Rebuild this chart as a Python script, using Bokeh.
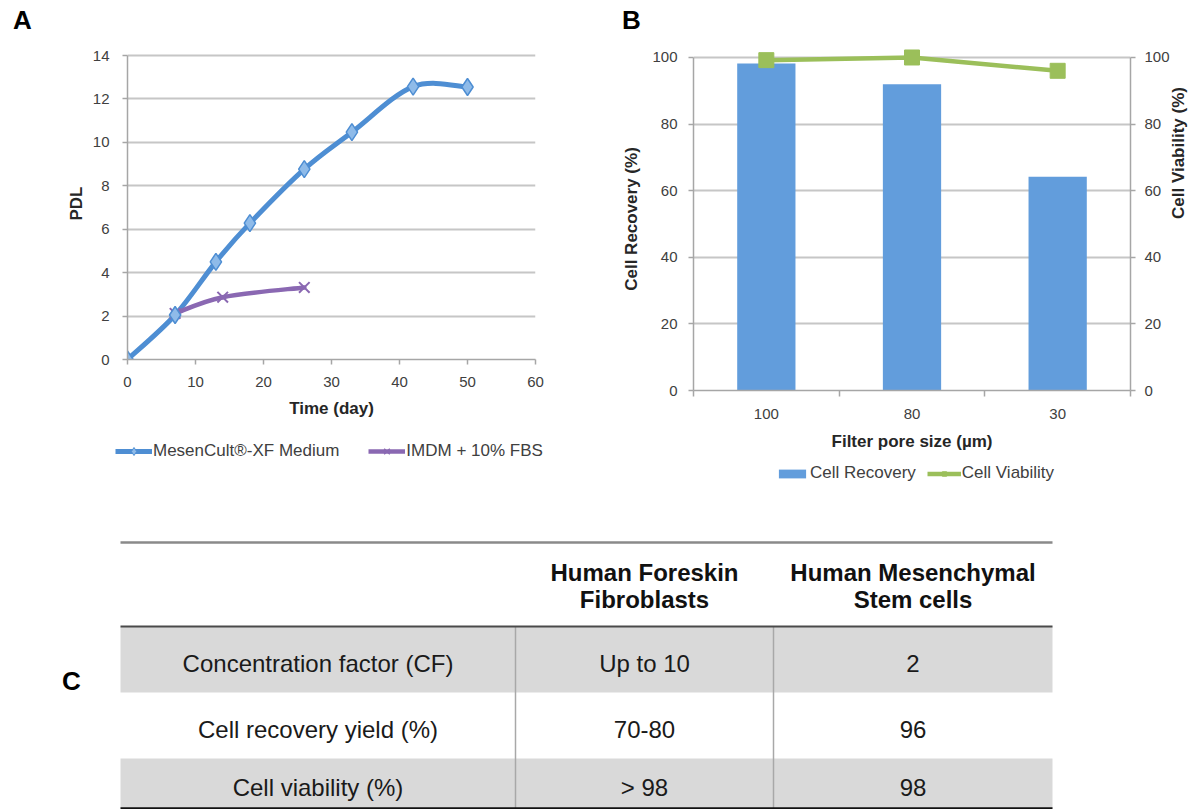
import math
from bokeh.plotting import figure
from bokeh.models import (Range1d, LinearAxis, FixedTicker, SingleIntervalTicker,
                          Legend, LegendItem, ColumnDataSource)
from bokeh.layouts import column, row
from bokeh.embed import file_html
from bokeh.resources import INLINE
from bokeh.core.properties import value

# ---------------- data ----------------
# Panel A: population doubling level over time
mesencult_day = [0, 7, 13, 18, 26, 33, 42, 50]
mesencult_pdl = [0.0, 2.05, 4.5, 6.28, 8.77, 10.47, 12.57, 12.55]
imdm_day = [7, 14, 26]
imdm_pdl = [2.12, 2.87, 3.32]
series_a_names = ["MesenCult®-XF Medium", "IMDM + 10% FBS"]

# Panel B: filter pore size
pore_sizes = ["100", "80", "30"]
cell_recovery = [98.2, 92.0, 64.2]
cell_viability = [99.2, 100.0, 96.0]
series_b_names = ["Cell Recovery", "Cell Viability"]

# Panel C: table
table_head_1 = ["Human Foreskin", "Human Mesenchymal"]
table_head_2 = ["Fibroblasts", "Stem cells"]
row_labels = ["Concentration factor (CF)", "Cell recovery yield (%)", "Cell viability (%)"]
fibroblast_values = ["Up to 10", "70-80", "> 98"]
msc_values = ["2", "96", "98"]

panel_letters = ["A", "B", "C"]

FONT = "Liberation Sans"
TICK_COLOR = "#404040"
AXIS_COLOR = "#a6a6a6"
GRID_COLOR = "#c6c6c6"
BLUE = "#4e8ed3"
BLUE_FILL = "#8fbbe9"
PURPLE = "#8a68b2"
BAR = "#629ddc"
GREEN = "#9bbf5a"
NAN = float("nan")


def smooth_segments(xs, ys):
    """Catmull-Rom style bezier control points (Excel 'smoothed line')."""
    n = len(xs)
    d = dict(x0=[], y0=[], x1=[], y1=[], cx0=[], cy0=[], cx1=[], cy1=[])
    for i in range(n - 1):
        im, i2 = max(i - 1, 0), min(i + 2, n - 1)
        d["x0"].append(xs[i]); d["y0"].append(ys[i])
        d["x1"].append(xs[i + 1]); d["y1"].append(ys[i + 1])
        d["cx0"].append(xs[i] + (xs[i + 1] - xs[im]) / 6)
        d["cy0"].append(ys[i] + (ys[i + 1] - ys[im]) / 6)
        d["cx1"].append(xs[i + 1] - (xs[i2] - xs[i]) / 6)
        d["cy1"].append(ys[i + 1] - (ys[i2] - ys[i]) / 6)
    return ColumnDataSource(d)


def style_axis(ax):
    ax.axis_line_color = AXIS_COLOR
    ax.axis_line_width = 1.5
    ax.major_tick_line_color = AXIS_COLOR
    ax.major_tick_line_width = 1.5
    ax.major_tick_in = 0
    ax.major_tick_out = 5
    ax.minor_tick_line_color = None
    ax.major_label_text_font = FONT
    ax.major_label_text_font_size = "15px"
    ax.major_label_text_color = TICK_COLOR
    ax.axis_label_text_font = FONT
    ax.axis_label_text_font_size = "17px"
    ax.axis_label_text_font_style = "bold"
    ax.axis_label_text_color = "#262626"


def bare(width, height, y_top, y_bottom, fixed_frame=False):
    """Axis-less canvas whose data units are page pixels (layout only)."""
    size = dict(frame_width=width, frame_height=height) if fixed_frame else dict(width=width, height=height)
    p = figure(x_range=Range1d(0, width), y_range=Range1d(y_bottom, y_top),
               x_axis_type=None, y_axis_type=None, output_backend="svg", toolbar_location=None,
               min_border_left=0, min_border_right=0, min_border_top=0, min_border_bottom=0, **size)
    p.outline_line_color = None
    return p


leg_style = dict(orientation="horizontal", label_standoff=1, padding=0, margin=0,
                 background_fill_alpha=0, border_line_alpha=0,
                 label_text_font=FONT, label_text_font_size="17px", label_text_color=TICK_COLOR)

# ---------------- header strip with panel letters A, B ----------------
strip = bare(1200, 36, 0, 36)
strip.text(x=[22, 631], y=[19, 19], text=panel_letters[:2], text_font=value(FONT),
           text_font_size="26px", text_font_style="bold", text_align="center",
           text_baseline="middle", text_color="black")

# ---------------- Panel A ----------------
pA = figure(width=608, height=389, x_range=Range1d(0, 60), y_range=Range1d(0, 14.37),
            output_backend="svg", toolbar_location=None,
            min_border_left=127, min_border_right=73, min_border_top=11, min_border_bottom=66)
pA.outline_line_color = None
pA.xgrid.visible = False
pA.ygrid.grid_line_color = GRID_COLOR
pA.ygrid.grid_line_width = 2
pA.xaxis.ticker = SingleIntervalTicker(interval=10, num_minor_ticks=0)
pA.yaxis.ticker = SingleIntervalTicker(interval=2, num_minor_ticks=0)
pA.yaxis.bounds = (0, 14)
pA.xaxis.axis_label = "Time (day)"
pA.yaxis.axis_label = "PDL"
for ax in pA.axis:
    style_axis(ax)
pA.xaxis.major_label_standoff = 12
pA.xaxis.axis_label_standoff = 9
pA.yaxis.major_label_standoff = 13
pA.yaxis.axis_label_standoff = 4

pA.bezier(x0="x0", y0="y0", x1="x1", y1="y1", cx0="cx0", cy0="cy0", cx1="cx1", cy1="cy1",
          source=smooth_segments(mesencult_day, mesencult_pdl),
          line_color=BLUE, line_width=5, line_cap="round")
pA.bezier(x0="x0", y0="y0", x1="x1", y1="y1", cx0="cx0", cy0="cy0", cx1="cx1", cy1="cy1",
          source=smooth_segments(imdm_day, imdm_pdl),
          line_color=PURPLE, line_width=4.5, line_cap="round")
pA.scatter(imdm_day, imdm_pdl, marker="x", size=15, line_color=PURPLE, line_width=2)
pA.scatter(mesencult_day, mesencult_pdl, marker="diamond", size=17,
           fill_color=BLUE_FILL, line_color=BLUE, line_width=1.5)

# legend of panel A, in its own strip under the plot (fixed frame: not aligned to pA's frame)
LA_TOP, LA_BOTTOM = 425, 462
legA_fig = bare(608, LA_BOTTOM - LA_TOP, LA_TOP, LA_BOTTOM, fixed_frame=True)
kA1 = legA_fig.line(x=[NAN], y=[NAN], line_color=BLUE, line_width=5)
kA1m = legA_fig.scatter(x=[NAN], y=[NAN], marker="diamond", size=10, fill_color=BLUE_FILL,
                        line_color=BLUE, line_width=1)
kA2 = legA_fig.line(x=[NAN], y=[NAN], line_color=PURPLE, line_width=4.5)
kA2m = legA_fig.scatter(x=[NAN], y=[NAN], marker="x", size=10, line_color=PURPLE, line_width=1.5)
legA = Legend(items=[LegendItem(label=series_a_names[0], renderers=[kA1, kA1m]),
                     LegendItem(label=series_a_names[1], renderers=[kA2, kA2m])],
              location=(115, 1), spacing=29, glyph_width=37, glyph_height=20, **leg_style)
legA_fig.add_layout(legA)

# ---------------- Panel B ----------------
bar_x = [i + 0.5 for i in range(len(pore_sizes))]
pB = figure(width=592, height=418, x_range=Range1d(0, len(pore_sizes)), y_range=Range1d(0, 103),
            output_backend="svg", toolbar_location=None,
            min_border_left=85, min_border_right=70, min_border_top=11, min_border_bottom=64)
pB.extra_y_ranges = {"viab": Range1d(0, 103)}
pB.outline_line_color = None
pB.xgrid.visible = False
pB.ygrid.grid_line_color = GRID_COLOR
pB.ygrid.grid_line_width = 2

pB.xaxis.ticker = FixedTicker(ticks=bar_x, minor_ticks=list(range(len(pore_sizes) + 1)))
pB.xaxis.major_label_overrides = {bx: s for bx, s in zip(bar_x, pore_sizes)}
pB.yaxis.ticker = SingleIntervalTicker(interval=20, num_minor_ticks=0)
pB.yaxis.bounds = (0, 100)
pB.xaxis.axis_label = "Filter pore size (µm)"
pB.yaxis.axis_label = "Cell Recovery (%)"
right_ax = LinearAxis(y_range_name="viab", ticker=SingleIntervalTicker(interval=20, num_minor_ticks=0),
                      bounds=(0, 100), axis_label="Cell Viability (%)")
pB.add_layout(right_ax, "right")
for ax in pB.axis:
    style_axis(ax)
pB.xaxis.major_tick_line_color = None
pB.xaxis.minor_tick_line_color = AXIS_COLOR
pB.xaxis.minor_tick_line_width = 1.5
pB.xaxis.minor_tick_in = 0
pB.xaxis.minor_tick_out = 6
pB.xaxis.major_label_standoff = 12
pB.xaxis.axis_label_standoff = 10
pB.yaxis.major_label_standoff = 11
pB.yaxis.axis_label_standoff = 8
right_ax.major_label_standoff = 9
right_ax.axis_label_standoff = 6
right_ax.axis_label_orientation = math.pi / 2

pB.vbar(x=bar_x, top=cell_recovery, width=0.4, fill_color=BAR, line_color=None)
pB.line(bar_x, cell_viability, y_range_name="viab", line_color=GREEN, line_width=4.5)
pB.scatter(bar_x, cell_viability, y_range_name="viab", marker="square", size=15,
           fill_color=GREEN, line_color=GREEN)

# ---------------- Panel C (legend of B + table), page-pixel coordinates ----------------
C_TOP, C_BOTTOM = 462, 809
pC = bare(1200, C_BOTTOM - C_TOP, C_TOP, C_BOTTOM)

kB1 = pC.vbar(x=[NAN], top=[NAN], width=1, fill_color=BAR, line_color=None)
kB2 = pC.line(x=[NAN], y=[NAN], line_color=GREEN, line_width=4.5)
kB2m = pC.scatter(x=[NAN], y=[NAN], marker="square", size=10, fill_color=GREEN, line_color=GREEN)
legB = Legend(items=[LegendItem(label=series_b_names[0], renderers=[kB1]),
                     LegendItem(label=series_b_names[1], renderers=[kB2, kB2m])],
              location=(775, C_BOTTOM - 483), spacing=11, glyph_width=34, glyph_height=11, **leg_style)
pC.add_layout(legB)

# table geometry
tbl_left, tbl_right = 120, 1052
col_edges = [tbl_left, 515, 773, tbl_right]
top_line, header_line = 542, 626
row_edges = [626, 692, 758, 808]
head_y = [572, 599]

n_rows = len(row_labels)
gray_rows = [i for i in range(n_rows) if i % 2 == 0]
pC.quad(left=[tbl_left] * len(gray_rows), right=[tbl_right] * len(gray_rows),
        top=[row_edges[i] for i in gray_rows], bottom=[row_edges[i + 1] for i in gray_rows],
        fill_color="#d9d9d9", line_color=None)
pC.segment(x0=col_edges[1:3], x1=col_edges[1:3], y0=[row_edges[0]] * 2, y1=[row_edges[-1]] * 2,
           line_color="#a8a8a8", line_width=1.5)
pC.segment(x0=[tbl_left], x1=[tbl_right], y0=[top_line], y1=[top_line], line_color="#8a8a8a", line_width=2.5)
pC.segment(x0=[tbl_left], x1=[tbl_right], y0=[header_line], y1=[header_line], line_color="#4a4a4a", line_width=2)
pC.segment(x0=[tbl_left], x1=[tbl_right], y0=[row_edges[-1]], y1=[row_edges[-1]],
           line_color="#111111", line_width=2.5)

col_centers = [(col_edges[i] + col_edges[i + 1]) / 2 for i in range(3)]
row_centers = [(row_edges[i] + row_edges[i + 1]) / 2 + 4 for i in range(n_rows)]

for line_idx, texts in enumerate([table_head_1, table_head_2]):
    pC.text(x=col_centers[1:], y=[head_y[line_idx]] * 2, text=texts,
            text_font=value(FONT), text_font_size="24px", text_font_style="bold",
            text_align="center", text_baseline="middle", text_color="#111111")

for ci, col_vals in enumerate([row_labels, fibroblast_values, msc_values]):
    pC.text(x=[col_centers[ci]] * n_rows, y=row_centers, text=col_vals,
            text_font=value(FONT), text_font_size="24px",
            text_align="center", text_baseline="middle", text_color="#1a1a1a")

pC.text(x=[71], y=[680], text=[panel_letters[2]], text_font=value(FONT), text_font_size="26px",
        text_font_style="bold", text_align="center", text_baseline="middle", text_color="black")

layout = column(strip, row(column(pA, legA_fig), pB), pC)
open("out.html", "w").write(file_html(layout, INLINE))
